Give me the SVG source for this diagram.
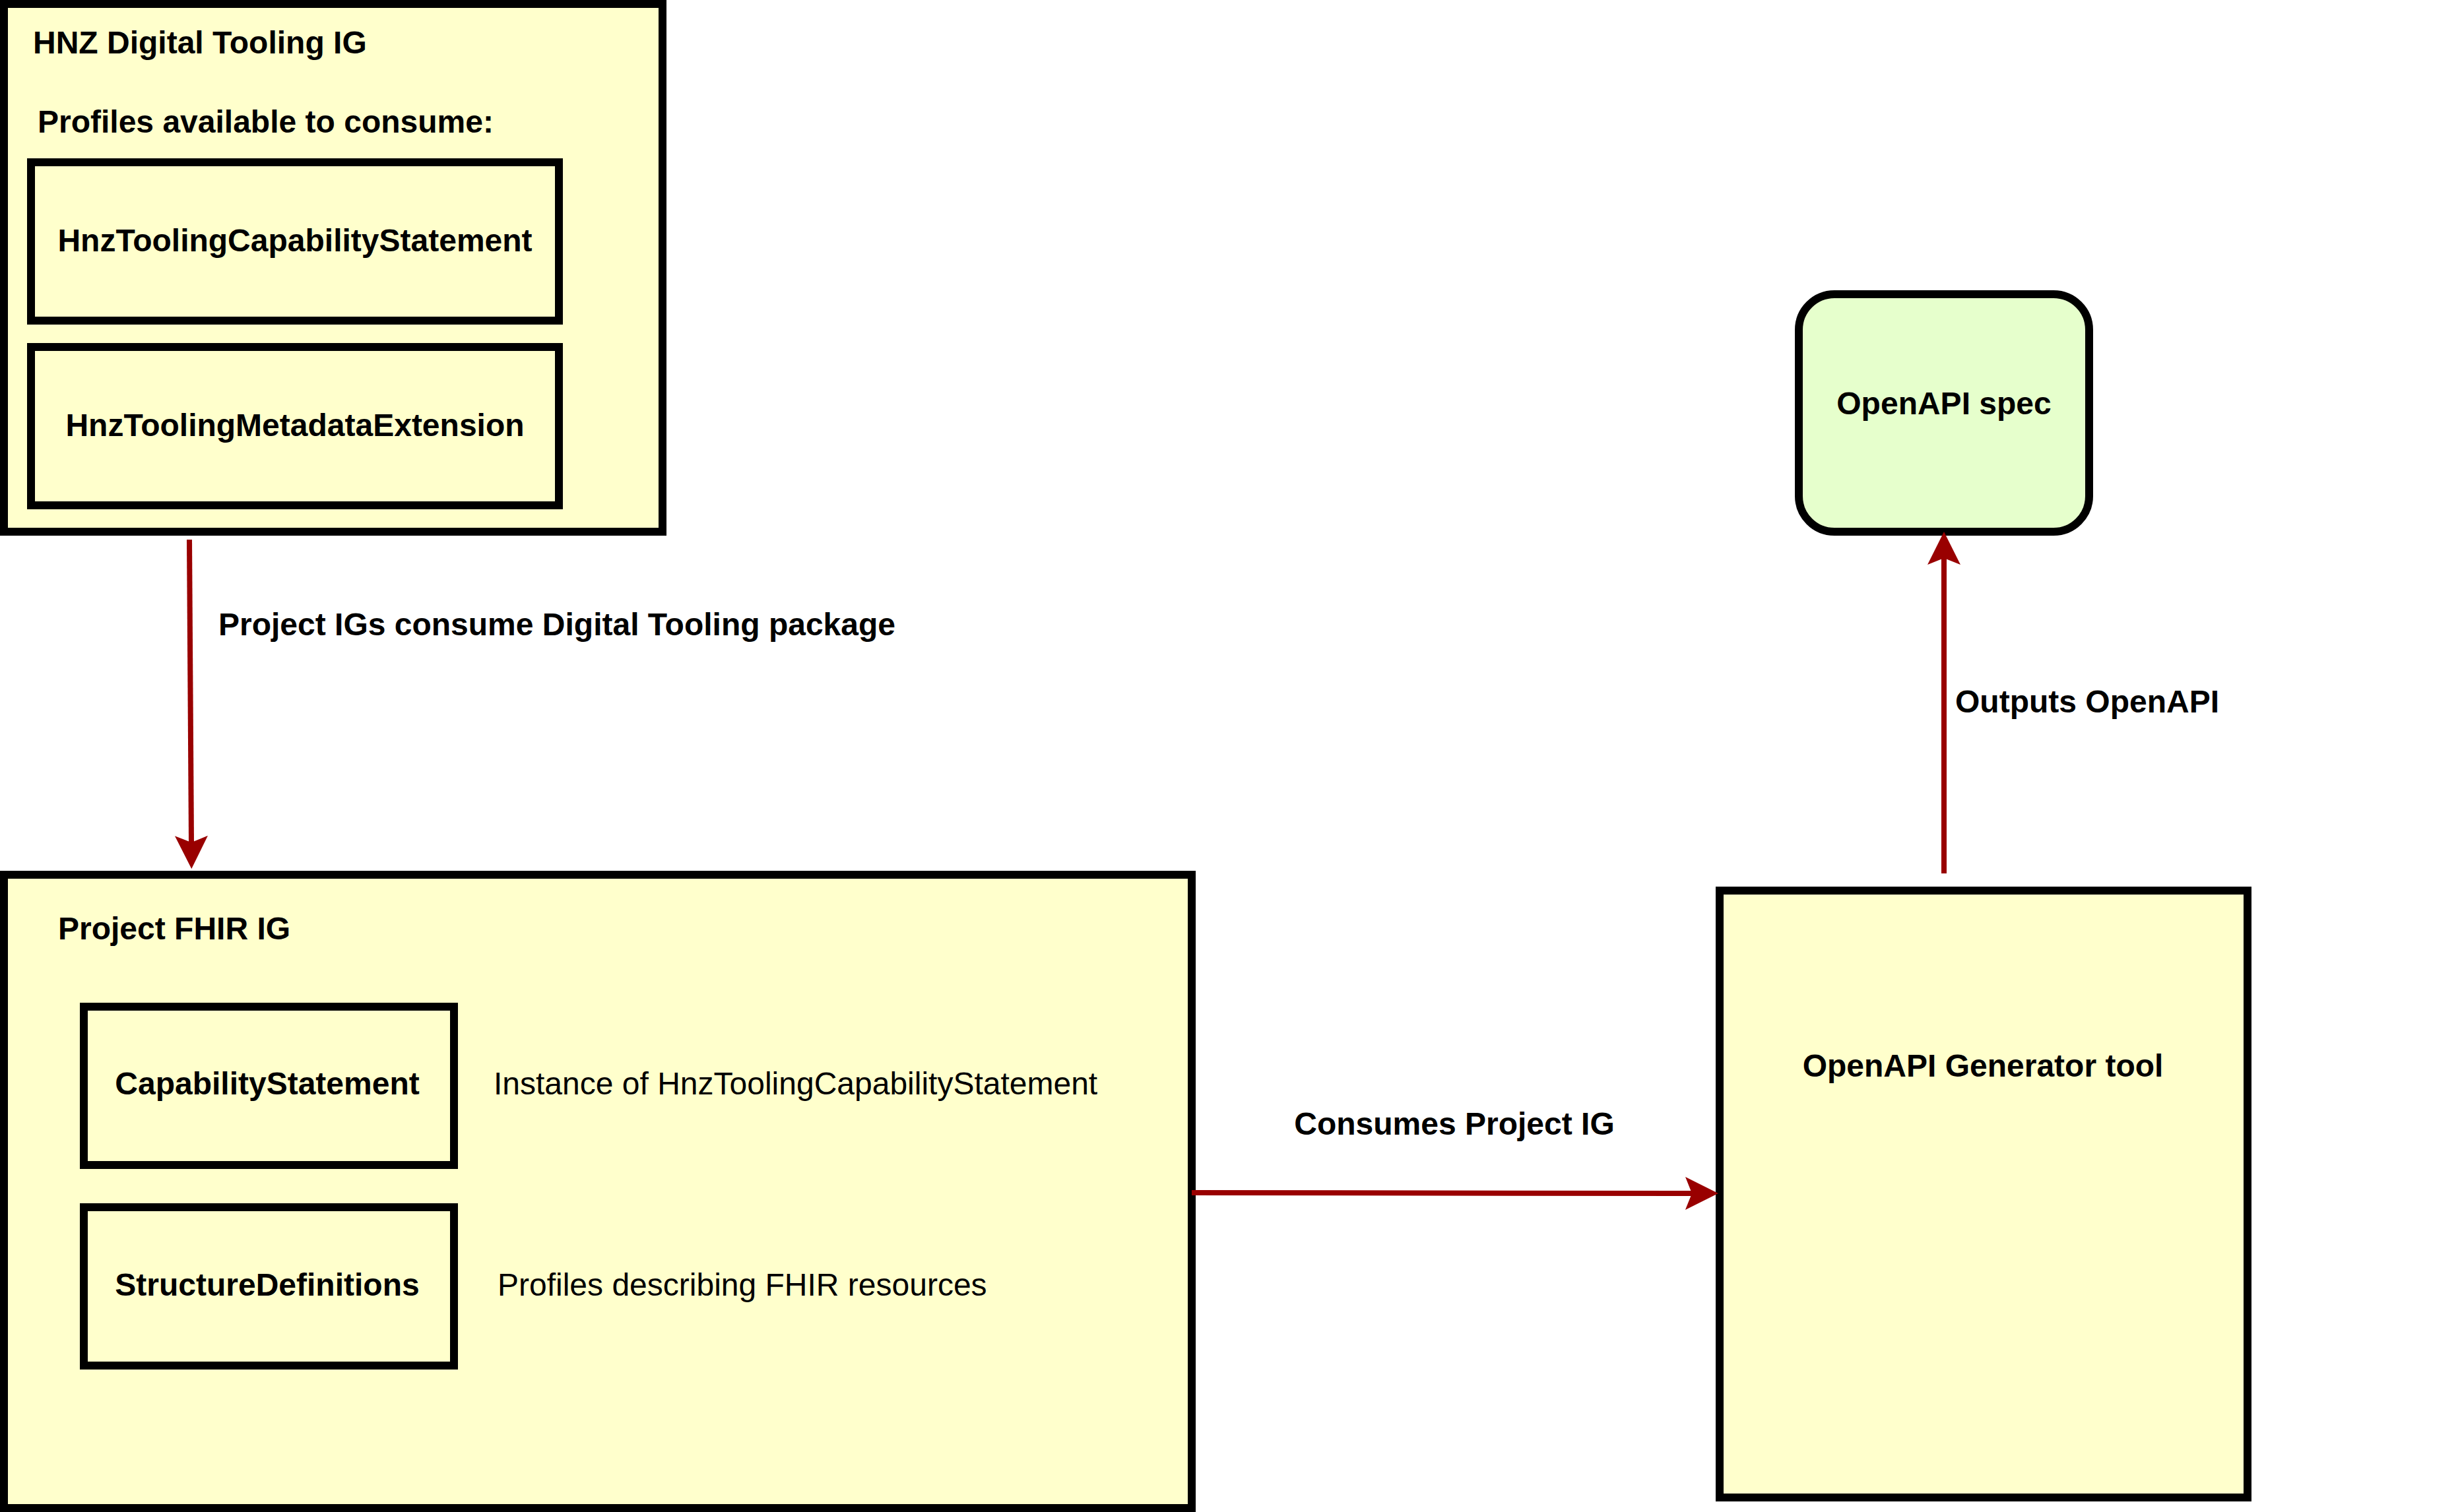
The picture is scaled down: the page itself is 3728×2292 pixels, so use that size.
<svg xmlns="http://www.w3.org/2000/svg" width="3728" height="2292" viewBox="0 0 3728 2292">
<defs>
<style>
.box{fill:#FFFFCC;stroke:#000;stroke-width:12}
.green{fill:#E6FFCC;stroke:#000;stroke-width:12}
.b{font-family:"Liberation Sans",Arial,Helvetica,sans-serif;font-size:48px;font-weight:bold;fill:#000}
.n{font-family:"Liberation Sans",Arial,Helvetica,sans-serif;font-size:48px;font-weight:normal;fill:#000}
.c{text-anchor:middle}
.edge{fill:none;stroke:#990000;stroke-width:8;marker-end:url(#arrow)}
</style>
<marker id="arrow" markerUnits="userSpaceOnUse" viewBox="-12 -27 54 54" markerWidth="54" markerHeight="54" refX="0" refY="0" orient="auto">
<path d="M40,0 L-10,-25 L0,0 L-10,25 Z" fill="#990000"/>
</marker>
</defs>
<rect width="3728" height="2292" fill="#fff"/>
<g id="hnz-digital-tooling-ig">
<rect class="box" x="6" y="6" width="998" height="800"/>
<text class="b" x="50" y="81">HNZ Digital Tooling IG</text>
<text class="b" x="57" y="201">Profiles available to consume:</text>
</g>
<g id="hnz-tooling-capability-statement">
<rect class="box" x="47" y="246" width="800" height="240"/>
<text class="b c" x="447" y="381">HnzToolingCapabilityStatement</text>
</g>
<g id="hnz-tooling-metadata-extension">
<rect class="box" x="47" y="526" width="800" height="240"/>
<text class="b c" x="447" y="661">HnzToolingMetadataExtension</text>
</g>
<g id="project-fhir-ig">
<rect class="box" x="6" y="1326" width="1800" height="960"/>
<text class="b" x="88" y="1424">Project FHIR IG</text>
<text class="n" x="748" y="1659">Instance of HnzToolingCapabilityStatement</text>
<text class="n" x="754" y="1964">Profiles describing FHIR resources</text>
</g>
<g id="capability-statement">
<rect class="box" x="127" y="1526" width="561" height="240"/>
<text class="b c" x="405" y="1659">CapabilityStatement</text>
</g>
<g id="structure-definitions">
<rect class="box" x="127" y="1830" width="561" height="240"/>
<text class="b c" x="405" y="1964">StructureDefinitions</text>
</g>
<g id="openapi-generator-tool">
<rect class="box" x="2606" y="1350" width="800" height="920"/>
<text class="b c" x="3005" y="1632">OpenAPI Generator tool</text>
</g>
<g id="openapi-spec">
<rect class="green" x="2726" y="446" width="440" height="360" rx="54" ry="54"/>
<text class="b c" x="2946" y="628">OpenAPI spec</text>
</g>
<g id="connectors">
<path class="edge" d="M287,818 L290,1277"/>
<path class="edge" d="M1806,1808 L2564,1809"/>
<path class="edge" d="M2946,1324 L2946,846"/>
<text class="b" x="331" y="963">Project IGs consume Digital Tooling package</text>
<text class="b c" x="2204" y="1720">Consumes Project IG</text>
<text class="b" x="2963" y="1080">Outputs OpenAPI</text>
</g>
</svg>
